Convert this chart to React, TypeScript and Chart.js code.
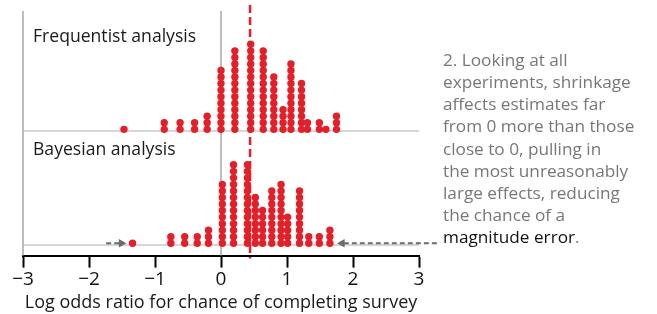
import React, { useEffect, useRef } from "react";
import { Chart, registerables } from "chart.js";

Chart.register(...registerables);

// ---- data ----
const freqX = [-1.47, -0.86, -0.62, -0.4, -0.21, 0.0, 0.21, 0.45, 0.64, 0.8, 0.94, 1.06, 1.22, 1.31, 1.49, 1.59, 1.75];
const freqCounts = [1, 2, 2, 2, 3, 10, 13, 14, 13, 9, 4, 11, 8, 2, 2, 1, 3];
const bayesX = [-1.34, -0.76, -0.55, -0.36, -0.19, 0.02, 0.19, 0.4, 0.52, 0.63, 0.77, 0.91, 1.01, 1.19, 1.33, 1.49, 1.65];
const bayesCounts = [1, 2, 2, 2, 3, 10, 13, 13, 8, 6, 9, 10, 5, 9, 2, 2, 3];
const meanEstimate = 0.44;
const xTicks = [-3, -2, -1, 0, 1, 2, 3];
const panelTitles = ["Frequentist analysis", "Bayesian analysis"];
const axisTitle = "Log odds ratio for chance of completing survey";
const noteLines = [
  "2. Looking at all",
  "experiments, shrinkage",
  "affects estimates far",
  "from 0 more than those",
  "close to 0, pulling in",
  "the most unreasonably",
  "large effects, reducing",
  "the chance of a",
];
const noteEmph = "magnitude error";

// stack units (one dot = one unit)
const FREQ_BASE = 17.42;
const BAYES_BASE = 0;
const Y_MIN = -1.885;
const Y_MAX = 36.43;

const RED = "#e3202a";
const GRAY_LINE = "#c8c8c8";
const ARROW = "#6b6b6b";
const FONT = "'Open Sans'";

function stackPoints(xs: number[], counts: number[], base: number) {
  const pts: { x: number; y: number }[] = [];
  xs.forEach((x, i) => {
    for (let k = 0; k < counts[i]; k++) pts.push({ x, y: base + k });
  });
  return pts;
}

const textPlugin = {
  id: "texts",
  afterDraw(chart: any) {
    const ctx = chart.ctx;
    ctx.save();
    ctx.textBaseline = "alphabetic";
    ctx.textAlign = "left";
    ctx.fillStyle = "#1a1a1a";
    ctx.font = `17.6px ${FONT}`;
    ctx.fillText(panelTitles[0], 33, 42);
    ctx.fillText(panelTitles[1], 33, 155);

    ctx.font = `17.2px ${FONT}`;
    ctx.fillStyle = "#777777";
    const x0 = 443;
    noteLines.forEach((l, i) => ctx.fillText(l, x0, 65.7 + i * 22.2));
    const yl = 65.7 + noteLines.length * 22.2;
    ctx.fillStyle = "#111111";
    ctx.fillText(noteEmph, x0, yl);
    const w = ctx.measureText(noteEmph).width;
    ctx.fillStyle = "#777777";
    ctx.fillText(".", x0 + w, yl);
    ctx.restore();
  },
};

export default function App() {
  const ref = useRef<HTMLCanvasElement>(null);
  useEffect(() => {
    document.body.style.margin = "0";
    const lineDs = (data: any[], color: string, width: number, extra: any = {}) => ({
      type: "line" as const,
      data,
      borderColor: color,
      borderWidth: width,
      pointRadius: 0,
      fill: false,
      clip: false as any,
      order: 5,
      ...extra,
    });
    const chart = new Chart(ref.current!, {
      type: "scatter",
      data: {
        datasets: [
          {
            data: stackPoints(freqX, freqCounts, FREQ_BASE),
            backgroundColor: RED,
            borderWidth: 0,
            pointRadius: 3.7,
            clip: false as any,
            order: 0,
          },
          {
            data: stackPoints(bayesX, bayesCounts, BAYES_BASE),
            backgroundColor: RED,
            borderWidth: 0,
            pointRadius: 3.7,
            clip: false as any,
            order: 0,
          },
          lineDs([{ x: -3, y: 35.52 }, { x: -3, y: Y_MIN }], "#a8a8a8", 1.5),
          lineDs([{ x: 0, y: 35.52 }, { x: 0, y: Y_MIN }], "#a8a8a8", 1.5),
          lineDs([{ x: -3, y: 17.16 }, { x: 3, y: 17.16 }], GRAY_LINE, 1.5),
          lineDs([{ x: -3, y: -0.27 }, { x: 3, y: -0.27 }], GRAY_LINE, 1.5),
          lineDs([{ x: meanEstimate, y: Y_MAX }, { x: meanEstimate, y: -2.34 }], RED, 2.5, {
            borderDash: [8, 4],
            order: 3,
          }),
          lineDs([{ x: -1.74, y: 0 }, { x: -1.51, y: 0 }], ARROW, 2, {
            borderDash: [5, 3],
            pointRadius: [0, 5],
            pointStyle: "triangle",
            rotation: 90,
            pointBackgroundColor: ARROW,
            pointBorderWidth: 0,
            order: 2,
          }),
          lineDs([{ x: 3.27, y: 0 }, { x: 1.835, y: 0 }], ARROW, 2, {
            borderDash: [5, 3],
            pointRadius: [0, 5],
            pointStyle: "triangle",
            rotation: -90,
            pointBackgroundColor: ARROW,
            pointBorderWidth: 0,
            order: 2,
          }),
        ],
      },
      options: {
        responsive: false,
        animation: false,
        devicePixelRatio: 1,
        events: [],
        layout: { padding: { left: 23, right: 238, top: 0, bottom: 0 } },
        plugins: { legend: { display: false }, tooltip: { enabled: false } },
        scales: {
          x: {
            type: "linear",
            min: xTicks[0],
            max: xTicks[xTicks.length - 1],
            afterBuildTicks: (axis: any) => {
              axis.ticks = xTicks.map((v) => ({ value: v }));
            },
            ticks: {
              autoSkip: false,
              padding: 1,
              color: "#111",
              font: { family: FONT, size: 19 },
              callback: (v: any) => String(v).replace("-", "\u2212"),
            },
            grid: {
              drawOnChartArea: false,
              drawTicks: true,
              tickLength: 12,
              tickWidth: 2,
              tickColor: "#000",
            },
            border: { display: true, color: "#000", width: 2 },
            title: {
              display: true,
              text: axisTitle,
              color: "#1a1a1a",
              font: { family: FONT, size: 18 },
              padding: { top: 0, bottom: 0 },
            },
          },
          y: { type: "linear", display: false, min: Y_MIN, max: Y_MAX },
        },
      },
      plugins: [textPlugin],
    });
    return () => chart.destroy();
  }, []);
  return <canvas ref={ref} width={657} height={314} />;
}
